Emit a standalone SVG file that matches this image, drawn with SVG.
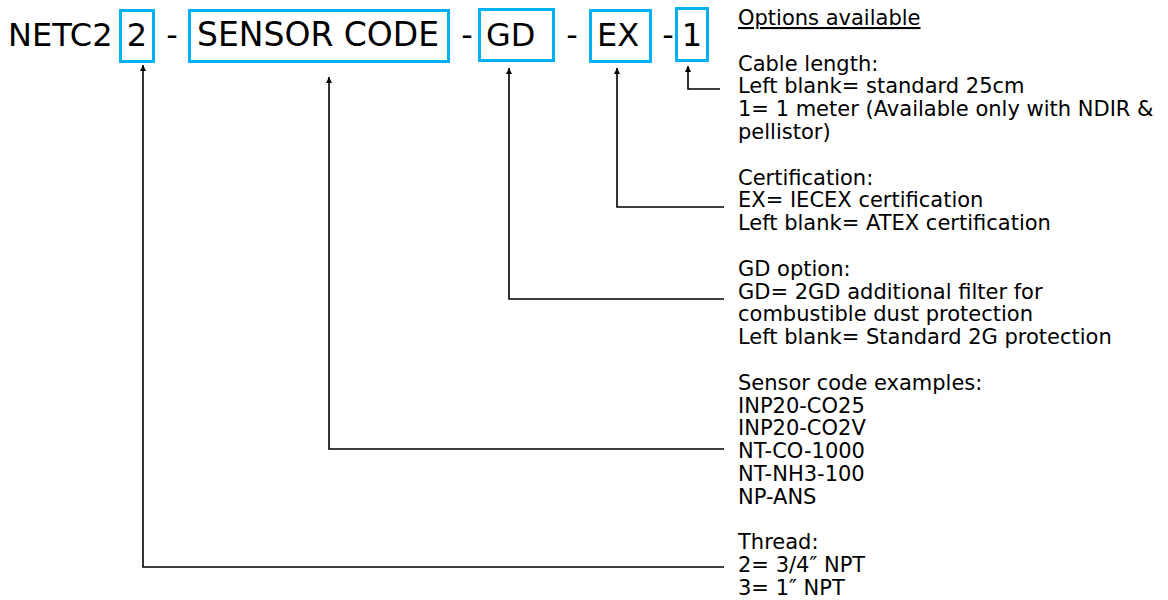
<svg xmlns="http://www.w3.org/2000/svg" width="1168" height="600" viewBox="0 0 1168 600">
<defs>
<marker id="arr" viewBox="0 0 10 10" refX="10" refY="5" markerWidth="6" markerHeight="7" markerUnits="userSpaceOnUse" orient="auto">
<path d="M0,0 L10,5 L0,10 z" fill="#000"/>
</marker>
<style>
.t{font-family:"DejaVu Sans","Liberation Sans",sans-serif;font-size:32px;fill:#000}
.b{font-family:"DejaVu Sans","Liberation Sans",sans-serif;font-size:21px;fill:#000}
.box{fill:none;stroke:#00b0f0;stroke-width:3}
.c{fill:none;stroke:#000;stroke-width:1.6;marker-end:url(#arr)}
</style>
</defs>
<rect width="1168" height="600" fill="#fff"/>
<text class="t" x="8" y="46">NETC2</text>
<g id="n-thread"><rect class="box" x="120.5" y="10.5" width="33" height="51"/><text class="t" x="137" y="46" text-anchor="middle">2</text></g>
<text class="t" x="172" y="46" text-anchor="middle">-</text>
<g id="n-sensor"><rect class="box" x="189.5" y="10.5" width="259" height="51"/><text class="t" x="197" y="46" style="font-size:33px">SENSOR CODE</text></g>
<text class="t" x="467" y="46" text-anchor="middle">-</text>
<g id="n-gd"><rect class="box" x="479.5" y="9.5" width="74" height="51"/><text class="t" x="486" y="46">GD</text></g>
<text class="t" x="572" y="46" text-anchor="middle">-</text>
<g id="n-ex"><rect class="box" x="590.5" y="10.5" width="60" height="51"/><text class="t" x="597" y="46">EX</text></g>
<text class="t" x="668" y="46" text-anchor="middle">-</text>
<g id="n-len"><rect class="box" x="676.5" y="8.5" width="31" height="52"/><text class="t" x="692" y="46" text-anchor="middle">1</text></g>
<g id="connectors">
<path class="c" d="M724,567 H143 V65"/>
<path class="c" d="M724,449 H329 V77"/>
<path class="c" d="M724,299 H509 V68"/>
<path class="c" d="M724,207 H617 V68"/>
<path class="c" d="M720,89 H688 V66"/>
</g>
<g id="options">
<text class="b" x="738" y="25" text-decoration="underline">Options available</text>
<text class="b" x="738" y="70.6">Cable length:</text>
<text class="b" x="738" y="93.4">Left blank= standard 25cm</text>
<text class="b" x="738" y="116.2">1= 1 meter (Available only with NDIR &amp;</text>
<text class="b" x="738" y="139">pellistor)</text>
<text class="b" x="738" y="184.6">Certification:</text>
<text class="b" x="738" y="207.4">EX= IECEX certification</text>
<text class="b" x="738" y="230.2">Left blank= ATEX certification</text>
<text class="b" x="738" y="275.8">GD option:</text>
<text class="b" x="738" y="298.6">GD= 2GD additional filter for</text>
<text class="b" x="738" y="321.4">combustible dust protection</text>
<text class="b" x="738" y="344.2">Left blank= Standard 2G protection</text>
<text class="b" x="738" y="389.8">Sensor code examples:</text>
<text class="b" x="738" y="412.6">INP20-CO25</text>
<text class="b" x="738" y="435.4">INP20-CO2V</text>
<text class="b" x="738" y="458.2">NT-CO-1000</text>
<text class="b" x="738" y="481">NT-NH3-100</text>
<text class="b" x="738" y="503.8">NP-ANS</text>
<text class="b" x="738" y="549.4">Thread:</text>
<text class="b" x="738" y="572.2">2= 3/4″ NPT</text>
<text class="b" x="738" y="595">3= 1″ NPT</text>
</g>
</svg>
